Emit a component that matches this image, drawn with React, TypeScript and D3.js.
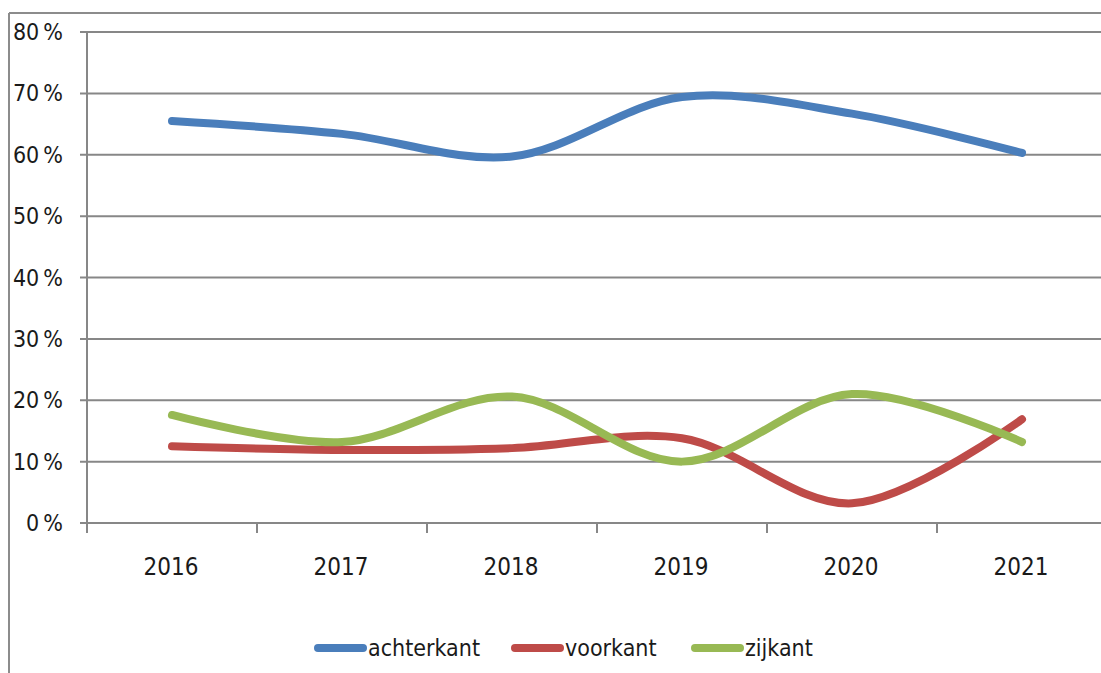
import React from "react";
import * as d3 from "d3";

const years = ["2016", "2017", "2018", "2019", "2020", "2021"];
const achterkant = [65.5, 63.4, 59.7, 69.4, 66.7, 60.3];
const voorkant = [12.5, 11.9, 12.2, 13.8, 3.2, 16.9];
const zijkant = [17.6, 13.2, 20.6, 10.0, 21.0, 13.2];
const yTicks = [0, 10, 20, 30, 40, 50, 60, 70, 80];

const seriesNames = ["achterkant", "voorkant", "zijkant"];
const seriesColors = ["#4A7EBB", "#BE4B48", "#98B954"];
const seriesData = [achterkant, voorkant, zijkant];

const W = 1101;
const H = 673;
const FONT = "'Liberation Sans Narrow', 'DejaVu Sans Condensed', 'Open Sans', sans-serif";

export default function App() {
  const left = 87;
  const right = 1107;
  const top = 32;
  const bottom = 523;

  const x = d3.scaleBand<string>().domain(years).range([left, right]);
  const y = d3.scaleLinear().domain([0, 80]).range([bottom, top]);

  const line = d3
    .line<number>()
    .x((_, i) => (x(years[i]) as number) + x.bandwidth() / 2)
    .y((d) => y(d))
    .curve(d3.curveCatmullRom.alpha(0.5));

  const boundaries = years.map((yr) => x(yr) as number).concat([right]);

  const legendItems = [
    { lx: 315, tx: 368 },
    { lx: 512, tx: 565 },
    { lx: 692, tx: 745 },
  ];

  return (
    <svg
      width={W}
      height={H}
      style={{ position: "absolute", left: 0, top: 0, background: "#fff" }}
    >
      <rect x={0} y={0} width={W} height={H} fill="#fff" />
      {/* outer frame */}
      <line x1={9} y1={13} x2={W + 5} y2={13} stroke="#8c8c8c" strokeWidth={2} />
      <line x1={9} y1={13} x2={9} y2={H + 5} stroke="#8c8c8c" strokeWidth={2} />

      {/* gridlines + y ticks */}
      {yTicks.map((t) => (
        <g key={t}>
          <line
            x1={left - 7}
            x2={right}
            y1={y(t)}
            y2={y(t)}
            stroke="#878787"
            strokeWidth={2}
          />
          <text
            x={63}
            y={y(t)}
            dy="0.35em"
            textAnchor="end"
            fontFamily={FONT}
            fontSize={23}
            fill="#1a1a1a"
          >
            {`${t}\u2009%`}
          </text>
        </g>
      ))}

      {/* y axis */}
      <line x1={left} x2={left} y1={top} y2={bottom + 10} stroke="#878787" strokeWidth={2} />

      {/* x ticks */}
      {boundaries.map((bx, i) => (
        <line
          key={i}
          x1={bx}
          x2={bx}
          y1={bottom}
          y2={bottom + 10}
          stroke="#878787"
          strokeWidth={2}
        />
      ))}
      {years.map((yr) => (
        <text
          key={yr}
          x={(x(yr) as number) + x.bandwidth() / 2 - 1}
          y={575}
          textAnchor="middle"
          fontFamily={FONT}
          fontSize={24}
          fill="#1a1a1a"
        >
          {yr}
        </text>
      ))}

      {/* series */}
      {seriesData.map((data, i) => (
        <path
          key={seriesNames[i]}
          d={line(data) || ""}
          fill="none"
          stroke={seriesColors[i]}
          strokeWidth={8}
          strokeLinecap="round"
          strokeLinejoin="round"
        />
      ))}

      {/* legend */}
      {seriesNames.map((name, i) => (
        <g key={name}>
          <line
            x1={legendItems[i].lx + 3}
            x2={legendItems[i].lx + 48}
            y1={648}
            y2={648}
            stroke={seriesColors[i]}
            strokeWidth={8}
            strokeLinecap="round"
          />
          <text
            x={legendItems[i].tx}
            y={648}
            dy="0.35em"
            fontFamily={FONT}
            fontSize={23}
            fill="#1a1a1a"
          >
            {name}
          </text>
        </g>
      ))}
    </svg>
  );
}
